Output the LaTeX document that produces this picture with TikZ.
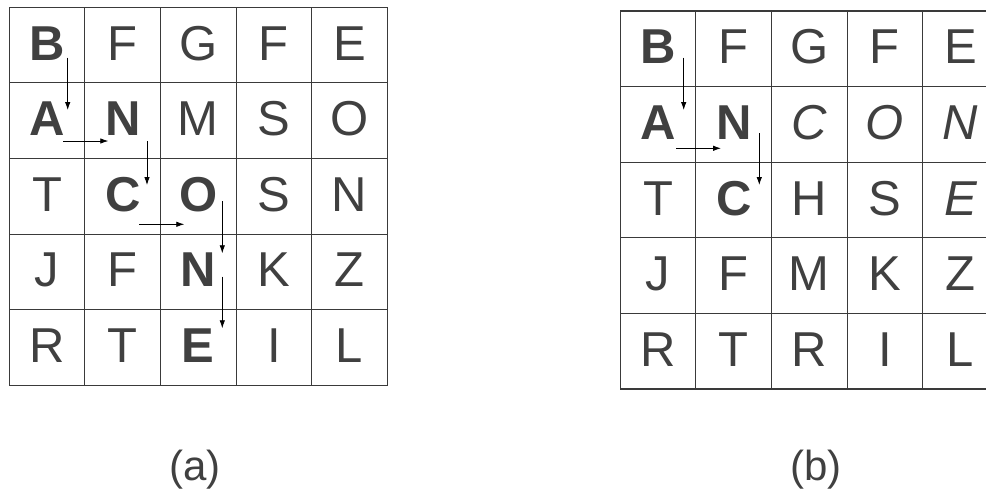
\documentclass[tikz,border=0pt]{standalone}
\usepackage{fontspec}
\setmainfont{Liberation Sans}
\usetikzlibrary{arrows.meta,positioning}
\definecolor{inkgray}{HTML}{404040}
\definecolor{linegray}{HTML}{3A3A3A}

\begin{document}
\begin{tikzpicture}[
    x=1pt, y=-1pt,
    node distance=0pt and 0pt,
    cell/.style={draw=linegray, line width=1.1pt, minimum size=75.6pt, inner sep=0pt, outer sep=0pt,
                 text height=35pt, text depth=5pt, text=inkgray, font=\fontsize{49}{55}\selectfont},
    hit/.style={cell, font=\fontsize{49}{55}\selectfont\bfseries},
    hid/.style={cell, font=\fontsize{49}{55}\selectfont\itshape},
    arr/.style={-{Latex[length=8pt,width=5.5pt]}, line width=0.8pt, black},
    lbl/.style={font=\fontsize{42}{48}\selectfont, text=inkgray, inner sep=0pt, anchor=base}
]
\useasboundingbox (0,0) rectangle (986,491);
\clip (0,0) rectangle (986,491);

% --- Grid (a): word found along a path ---
\node[hit] (a11) at (47.1,45.1) {B};
\node[cell, right=of a11] (a12) {F};
\node[cell, right=of a12] (a13) {G};
\node[cell, right=of a13] (a14) {F};
\node[cell, right=of a14] (a15) {E};

\node[hit,  below=of a11] (a21) {A};
\node[hit,  right=of a21] (a22) {N};
\node[cell, right=of a22] (a23) {M};
\node[cell, right=of a23] (a24) {S};
\node[cell, right=of a24] (a25) {O};

\node[cell, below=of a21] (a31) {T};
\node[hit,  right=of a31] (a32) {C};
\node[hit,  right=of a32] (a33) {O};
\node[cell, right=of a33] (a34) {S};
\node[cell, right=of a34] (a35) {N};

\node[cell, below=of a31] (a41) {J};
\node[cell, right=of a41] (a42) {F};
\node[hit,  right=of a42] (a43) {N};
\node[cell, right=of a43] (a44) {K};
\node[cell, right=of a44] (a45) {Z};

\node[cell, below=of a41] (a51) {R};
\node[cell, right=of a51] (a52) {T};
\node[hit,  right=of a52] (a53) {E};
\node[cell, right=of a53] (a54) {I};
\node[cell, right=of a54] (a55) {L};

\draw[arr] ([shift={(20.6,12.6)}]a11.center) -- ([shift={(20.6,-10.7)}]a21.center);
\draw[arr] ([shift={(16.2,20.3)}]a21.center) -- ([shift={(-14.4,20.3)}]a22.center);
\draw[arr] ([shift={(24.3,20.3)}]a22.center) -- ([shift={(24.3,-11.3)}]a32.center);
\draw[arr] ([shift={(16.6,28)}]a32.center)   -- ([shift={(-14,28)}]a33.center);
\draw[arr] ([shift={(24,4.7)}]a33.center)    -- ([shift={(24,-18.6)}]a43.center);
\draw[arr] ([shift={(24,4.8)}]a43.center)    -- ([shift={(24,-19.2)}]a53.center);

\node[lbl] (capa) at (195,480) {(a)};

% --- Grid (b): path cut short ---
\node[hit] (b11) at (658.1,48.8) {B};
\node[cell, right=of b11] (b12) {F};
\node[cell, right=of b12] (b13) {G};
\node[cell, right=of b13] (b14) {F};
\node[cell, right=of b14] (b15) {E};

\node[hit,  below=of b11] (b21) {A};
\node[hit,  right=of b21] (b22) {N};
\node[hid,  right=of b22] (b23) {C};
\node[hid,  right=of b23] (b24) {O};
\node[hid,  right=of b24] (b25) {N};

\node[cell, below=of b21] (b31) {T};
\node[hit,  right=of b31] (b32) {C};
\node[cell, right=of b32] (b33) {H};
\node[cell, right=of b33] (b34) {S};
\node[hid,  right=of b34] (b35) {E};

\node[cell, below=of b31] (b41) {J};
\node[cell, right=of b41] (b42) {F};
\node[cell, right=of b42] (b43) {M};
\node[cell, right=of b43] (b44) {K};
\node[cell, right=of b44] (b45) {Z};

\node[cell, below=of b41] (b51) {R};
\node[cell, right=of b51] (b52) {T};
\node[cell, right=of b52] (b53) {R};
\node[cell, right=of b53] (b54) {I};
\node[cell, right=of b54] (b55) {L};

\draw[arr] ([shift={(25.6,8.9)}]b11.center)  -- ([shift={(25.6,-14.4)}]b21.center);
\draw[arr] ([shift={(17.9,23.9)}]b21.center) -- ([shift={(-12.7,23.9)}]b22.center);
\draw[arr] ([shift={(25.6,8.9)}]b22.center)  -- ([shift={(25.6,-15)}]b32.center);

\node[lbl] (capb) at (816,480) {(b)};

\end{tikzpicture}
\end{document}
